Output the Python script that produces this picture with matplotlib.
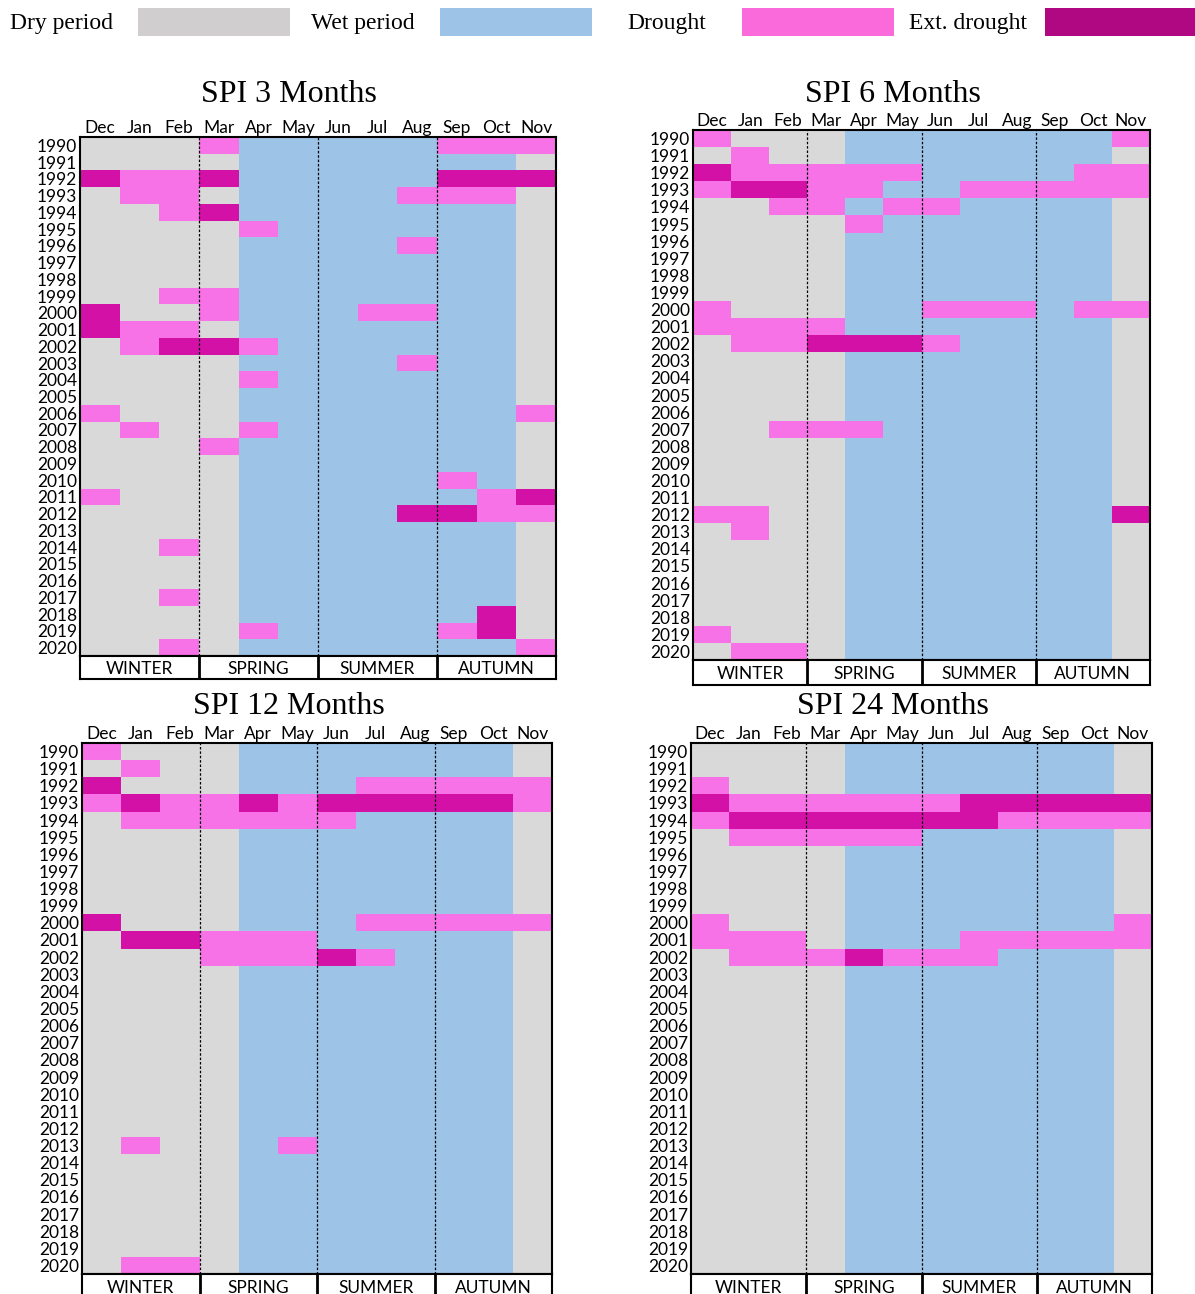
import numpy as np
import matplotlib
matplotlib.use("Agg")
import matplotlib.pyplot as plt
from matplotlib.colors import ListedColormap
from matplotlib.patches import Rectangle

months = ["Dec", "Jan", "Feb", "Mar", "Apr", "May", "Jun", "Jul", "Aug", "Sep", "Oct", "Nov"]
years = list(range(1990, 2021))
seasons = ["WINTER", "SPRING", "SUMMER", "AUTUMN"]
# months of the wet period (Apr..Oct), the rest is the dry period
wet_months = ["Apr", "May", "Jun", "Jul", "Aug", "Sep", "Oct"]

# one string per year, one char per month (Dec..Nov): 0 none, 1 drought, 2 extreme drought
spi3 = [
    "000100000111", "000000000000", "211200000222", "011000001110", "001200000000",
    "000010000000", "000000001000", "000000000000", "000000000000", "001100000000",
    "200100011000", "211000000000", "012210000000", "000000001000", "000010000000",
    "000000000000", "100000000001", "010010000000", "000100000000", "000000000000",
    "000000000100", "100000000012", "000000002211", "000000000000", "001000000000",
    "000000000000", "000000000000", "001000000000", "000000000020", "000010000120",
    "001000000001",
]
spi6 = [
    "100000000001", "010000000000", "211111000011", "122110011111", "001101100000",
    "000010000000", "000000000000", "000000000000", "000000000000", "000000000000",
    "100000111011", "111100000000", "011222100000", "000000000000", "000000000000",
    "000000000000", "000000000000", "001110000000", "000000000000", "000000000000",
    "000000000000", "000000000000", "110000000002", "010000000000", "000000000000",
    "000000000000", "000000000000", "000000000000", "000000000000", "100000000000",
    "011000000000",
]
spi12 = [
    "100000000000", "010000000000", "200000011111", "121121222221", "011111100000",
    "000000000000", "000000000000", "000000000000", "000000000000", "000000000000",
    "200000011111", "022111000000", "000111210000", "000000000000", "000000000000",
    "000000000000", "000000000000", "000000000000", "000000000000", "000000000000",
    "000000000000", "000000000000", "000000000000", "010001000000", "000000000000",
    "000000000000", "000000000000", "000000000000", "000000000000", "000000000000",
    "011000000000",
]
spi24 = [
    "000000000000", "000000000000", "100000000000", "211111122222", "122222221111",
    "011111000000", "000000000000", "000000000000", "000000000000", "000000000000",
    "100000000001", "111000011111", "011121110000", "000000000000", "000000000000",
    "000000000000", "000000000000", "000000000000", "000000000000", "000000000000",
    "000000000000", "000000000000", "000000000000", "000000000000", "000000000000",
    "000000000000", "000000000000", "000000000000", "000000000000", "000000000000",
    "000000000000",
]

legend_labels = ["Dry period", "Wet period", "Drought", "Ext. drought"]
legend_colors = ["#D0CECE", "#9DC3E6", "#FA6ADB", "#B00882"]
cell_colors = ["#D9D9D9", "#9DC3E6", "#F772E6", "#D411A7"]

W, H = 1195, 1294
fig = plt.figure(figsize=(W / 100, H / 100), dpi=100)

SERIF = "Liberation Serif"
SANS = "Lato"


def fig_rect(x0, y0, x1, y1):
    return [x0 / W, 1 - y1 / H, (x1 - x0) / W, (y1 - y0) / H]


# legend strip across the top
legend_text_x = [10, 311, 627, 909]
legend_box_x = [138, 440, 742, 1045]
for lab, col, tx, bx in zip(legend_labels, legend_colors, legend_text_x, legend_box_x):
    fig.text(tx / W, 1 - 24 / H, lab, family=SERIF, fontsize=17, va="center", ha="left")
    fig.patches.append(Rectangle((bx / W, 1 - 36 / H), 152 / W, 28 / H,
                                 transform=fig.transFigure, color=col, lw=0))


def draw_panel(rows, title, grid_box, season_bottom, title_xy):
    x0, y0, x1, y1 = grid_box
    codes = np.array([[int(c) for c in r] for r in rows])
    base = np.array([1 if m in wet_months else 0 for m in months])
    grid = np.where(codes > 0, codes + 1, base[None, :])

    ax = fig.add_axes(fig_rect(x0, y0, x1, y1))
    ax.pcolormesh(np.arange(13), np.arange(32), grid, cmap=ListedColormap(cell_colors),
                  vmin=-0.5, vmax=3.5, antialiased=False, edgecolors="none")
    ax.set_xlim(0, 12)
    ax.set_ylim(31, 0)
    for b in (3, 6, 9):
        ax.axvline(b, color="black", lw=0.9, ls=(0, (2, 1.5)))
    ax.xaxis.tick_top()
    ax.set_xticks(np.arange(12) + 0.5)
    ax.set_xticklabels(months, family=SANS, fontsize=12.5)
    ax.set_yticks(np.arange(31) + 0.5)
    ax.set_yticklabels(years, family=SANS, fontsize=12.5)
    ax.tick_params(length=0, pad=2)
    ax.tick_params(axis="x", pad=1)
    for s in ax.spines.values():
        s.set_linewidth(1.5)

    sx = fig.add_axes(fig_rect(x0, y1, x1, season_bottom))
    sx.set_xlim(0, 12)
    sx.set_ylim(0, 1)
    sx.set_xticks([])
    sx.set_yticks([])
    for b in (3, 6, 9):
        sx.axvline(b, color="black", lw=2)
    for i, s in enumerate(seasons):
        sx.text(i * 3 + 1.5, 0.45, s, family=SANS, fontsize=12.5, ha="center", va="center")
    for s in sx.spines.values():
        s.set_linewidth(1.5)

    fig.text(title_xy[0] / W, 1 - title_xy[1] / H, title, family=SERIF, fontsize=23,
             ha="center", va="center")


draw_panel(spi3, "SPI 3 Months", (80, 137, 556, 656), 679, (289, 94))
draw_panel(spi6, "SPI 6 Months", (693, 130, 1150, 660), 685, (893, 94))
draw_panel(spi12, "SPI 12 Months", (82, 743, 552, 1274), 1300, (289, 707))
draw_panel(spi24, "SPI 24 Months", (691, 743, 1152, 1274), 1300, (893, 707))

fig.savefig("out.png", dpi=100)
